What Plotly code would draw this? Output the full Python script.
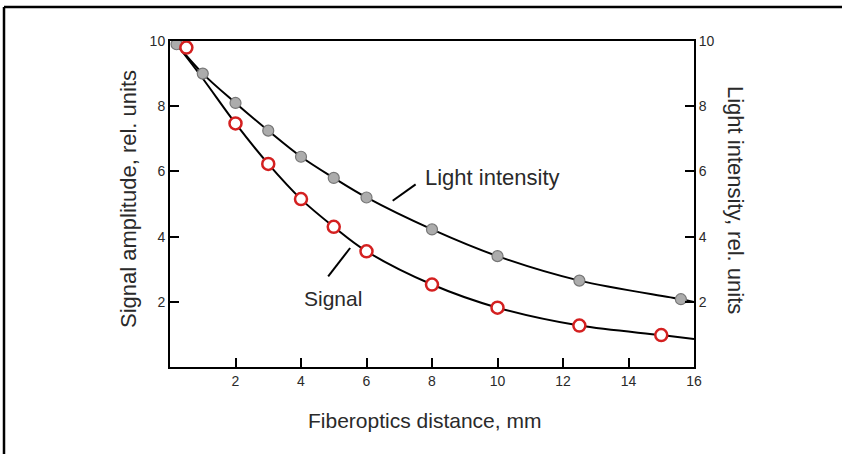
import plotly.graph_objects as go

# Data
light_x = [0.2, 1, 2, 3, 4, 5, 6, 8, 10, 12.5, 15.6]
light_y = [9.9, 9.0, 8.1, 7.25, 6.45, 5.8, 5.2, 4.22, 3.4, 2.65, 2.08]
signal_x = [0.5, 2, 3, 4, 5, 6, 8, 10, 12.5, 15]
signal_y = [9.8, 7.47, 6.23, 5.15, 4.3, 3.55, 2.53, 1.82, 1.27, 0.98]

# Fitted curves (black lines) through the data, extended to the axis end
light_curve_x = [0.2, 1, 2, 3, 4, 5, 6, 8, 10, 12.5, 15.6, 16]
light_curve_y = [9.9, 9.0, 8.1, 7.25, 6.45, 5.8, 5.2, 4.22, 3.4, 2.65, 2.08, 1.99]
signal_curve_x = [0.2, 1, 2, 3, 4, 5, 6, 8, 10, 12.5, 15, 16]
signal_curve_y = [9.9, 8.85, 7.47, 6.23, 5.15, 4.3, 3.55, 2.53, 1.82, 1.27, 0.98, 0.86]

x_ticks = [2, 4, 6, 8, 10, 12, 14, 16]
y_ticks = [2, 4, 6, 8, 10]

FONT = "Liberation Sans, Arial, sans-serif"
TXT = "#2a2a2a"

fig = go.Figure()
fig.add_trace(go.Scatter(x=light_curve_x, y=light_curve_y, mode="lines",
                         line=dict(color="black", width=2, shape="spline"),
                         hoverinfo="skip", showlegend=False))
fig.add_trace(go.Scatter(x=signal_curve_x, y=signal_curve_y, mode="lines",
                         line=dict(color="black", width=2, shape="spline"),
                         hoverinfo="skip", showlegend=False))
fig.add_trace(go.Scatter(x=light_x, y=light_y, mode="markers", name="Light intensity",
                         marker=dict(size=11, color="#acacac",
                                     line=dict(color="#777777", width=1.2)),
                         showlegend=False))
fig.add_trace(go.Scatter(x=signal_x, y=signal_y, mode="markers", name="Signal",
                         marker=dict(size=12, color="white",
                                     line=dict(color="#d42020", width=2.5)),
                         showlegend=False))
# invisible trace on right axis
fig.add_trace(go.Scatter(x=[0], y=[0], yaxis="y2", mode="markers",
                         marker=dict(opacity=0), hoverinfo="skip", showlegend=False))

axis_common = dict(showgrid=False, zeroline=False, showline=True, linecolor="black",
                   linewidth=2, ticks="inside", ticklen=9, tickwidth=1.5, tickcolor="black",
                   tickfont=dict(family=FONT, size=14, color=TXT))

fig.update_layout(
    width=842, height=454,
    margin=dict(l=170, r=148, t=41, b=87),
    paper_bgcolor="white", plot_bgcolor="white",
    xaxis=dict(range=[0, 16], tickvals=x_ticks, mirror=True, **axis_common),
    yaxis=dict(range=[0, 10], tickvals=y_ticks, **axis_common),
    yaxis2=dict(range=[0, 10], tickvals=y_ticks, overlaying="y", side="right",
                **axis_common),
    annotations=[
        dict(text="Signal amplitude, rel. units", xref="paper", yref="paper",
             x=(128 - 170) / 524, y=(367 - 199) / 326, textangle=-90, showarrow=False,
             xanchor="center", yanchor="middle",
             font=dict(family=FONT, size=22, color=TXT)),
        dict(text="Light intensity, rel. units", xref="paper", yref="paper",
             x=(736 - 170) / 524, y=(367 - 200) / 326, textangle=90, showarrow=False,
             xanchor="center", yanchor="middle",
             font=dict(family=FONT, size=22, color=TXT)),
        dict(text="Fiberoptics distance, mm", xref="paper", yref="paper",
             x=(424 - 170) / 524, y=(367 - 420) / 326, showarrow=False,
             xanchor="center", yanchor="middle",
             font=dict(family=FONT, size=21, color=TXT)),
        dict(text="Light intensity", xref="x", yref="y", x=9.86, y=5.82,
             xanchor="center", yanchor="middle",
             showarrow=False, font=dict(family=FONT, size=22, color=TXT)),
        dict(text="Signal", xref="x", yref="y", x=4.98, y=2.11,
             xanchor="center", yanchor="middle",
             showarrow=False, font=dict(family=FONT, size=21, color=TXT)),
    ],
    shapes=[
        # leader lines
        dict(type="line", xref="x", yref="y", x0=6.8, y0=5.1, x1=7.5, y1=5.6,
             line=dict(color="black", width=2)),
        dict(type="line", xref="x", yref="y", x0=4.83, y0=2.78, x1=5.5, y1=3.65,
             line=dict(color="black", width=2)),
        # outer frame (left and top)
        dict(type="line", xref="paper", yref="paper",
             x0=(4 - 170) / 524, y0=(367 - 7) / 326, x1=(842 - 170) / 524, y1=(367 - 7) / 326,
             line=dict(color="black", width=2.5)),
        dict(type="line", xref="paper", yref="paper",
             x0=(4 - 170) / 524, y0=(367 - 7) / 326, x1=(4 - 170) / 524, y1=(367 - 454) / 326,
             line=dict(color="black", width=2.5)),
    ],
)

fig.write_html("out.html", config={"displayModeBar": False},
               post_script="document.body.style.margin='0';")
